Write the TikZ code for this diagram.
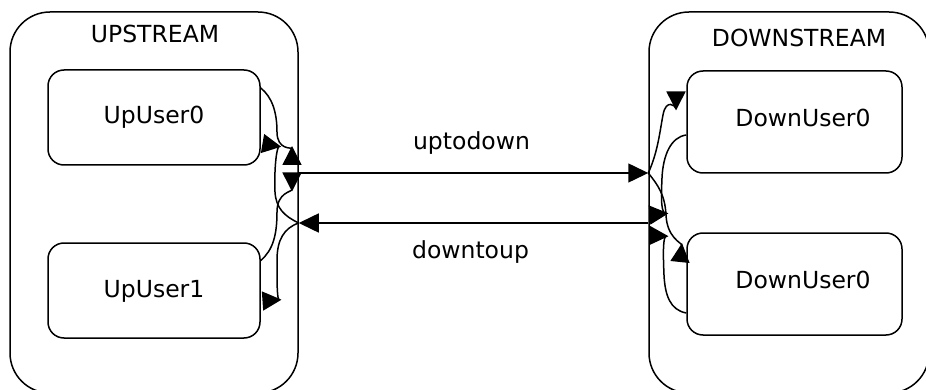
\documentclass[tikz,border=0pt]{standalone}
\usepackage{fontspec}
\setmainfont{DejaVu Sans}
\usetikzlibrary{arrows.meta}
\begin{document}
\begin{tikzpicture}[x=1pt,y=-1pt, line width=1.5pt,
  container/.style={draw, rounded corners=40pt, inner sep=0pt},
  userbox/.style={draw, rounded corners=16pt, inner sep=0pt},
  lbl/.style={anchor=base, inner sep=0pt, font=\fontsize{23.5pt}{28pt}\selectfont},
  mainarrow/.style={-{Triangle[length=20pt,width=19pt]}},
  wire/.style={-{Triangle[reversed,length=19pt,width=19pt]}}]
\useasboundingbox (0,0) rectangle (926,390);

% containers
\node[container, minimum width=288pt, minimum height=381pt] (up) at (154,202.5) {};
\node[container, minimum width=280pt, minimum height=381pt] (down) at (789,202.5) {};

% user boxes
\node[userbox, minimum width=212pt, minimum height=95pt] (u0) at (154,117.5) {};
\node[userbox, minimum width=212pt, minimum height=95pt] (u1) at (154,290.5) {};
\node[userbox, minimum width=215pt, minimum height=102pt] (d0) at (794.5,122) {};
\node[userbox, minimum width=215pt, minimum height=102pt] (d1) at (794.5,284) {};

% texts
\node[lbl] (tup) at (155,43) {UPSTREAM};
\node[lbl] (tdown) at (799,46.5) {DOWNSTREAM};
\node[lbl] (tu0) at (154,124) {UpUser0};
\node[lbl] (tu1) at (154,297) {UpUser1};
\node[lbl] (td0) at (803,127) {DownUser0};
\node[lbl] (td1) at (803,288) {DownUser0};
\node[lbl] (tutd) at (471.5,150) {uptodown};
\node[lbl] (tdtu) at (470.5,258) {downtoup};

% ports
\coordinate (pUo) at ([yshift=29.5pt]up.east);
\coordinate (pUi) at ([yshift=-20.5pt]up.east);
\coordinate (pDi) at ([yshift=29.5pt]down.west);
\coordinate (pDo) at ([yshift=-20.5pt]down.west);

% main connectors
\draw[mainarrow] (pUo) -- (pDi);
\draw[mainarrow] (pDo) -- (pUi);

% curve end points
\coordinate (s1) at ([yshift=29.5pt]u0.east);
\coordinate (s2) at ([yshift=30pt]u1.east);
\coordinate (s7) at ([yshift=-13pt]d0.west);
\coordinate (s8) at ([yshift=-29pt]d1.west);
\coordinate (a1) at (292,165);
\coordinate (a2) at (292,172.5);
\coordinate (a3) at (262.5,143.5);
\coordinate (a4) at (262.5,301);
\coordinate (a5) at (676,91.5);
\coordinate (a6) at (680,262);
\coordinate (a7) at (649.5,215);
\coordinate (a8) at (649.5,235.5);

% left side wires
\draw[wire] (s1) .. controls (272,97) and (277,112) .. (277,132)
  .. controls (277,150) and (292,148) .. (a1);
\draw[wire] (s2) .. controls (273,250) and (277,235) .. (277,212)
  .. controls (277,192) and (292,192) .. (a2);
\draw[wire] (pUi) .. controls (284,216) and (276,208) .. (275,192)
  .. controls (274,166) and (277,146) .. (a3);
\draw[wire] (pUi) .. controls (284,228) and (277,240) .. (277,260)
  .. controls (277,285) and (277,300) .. (a4);

% right side wires
\draw[wire] (pDi) .. controls (658,152) and (660,130) .. (663,115)
  .. controls (666,98) and (676,106) .. (a5);
\draw[wire] (pDi) .. controls (658,185) and (665,195) .. (666,215)
  .. controls (667,238) and (682,243) .. (a6);
\draw[wire] (s7) .. controls (671,137) and (663,155) .. (662,178)
  .. controls (661,200) and (661,214) .. (a7);
\draw[wire] (s8) .. controls (670,310) and (665,295) .. (664,275)
  .. controls (663,252) and (663,236) .. (a8);
\end{tikzpicture}
\end{document}
